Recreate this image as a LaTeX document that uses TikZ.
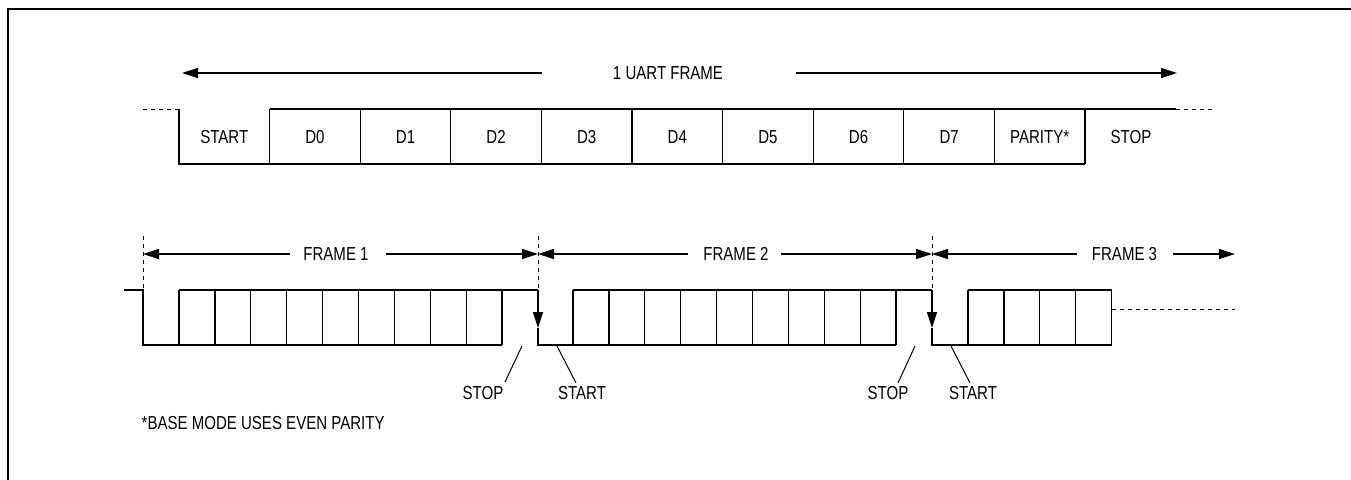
\documentclass[tikz,border=0pt]{standalone}
\usepackage{fontspec}
\setmainfont{Liberation Sans}[FakeStretch=0.8]
\usetikzlibrary{arrows.meta}
\begin{document}
\begin{tikzpicture}[x=1pt,y=-1pt,line width=1.3pt,
  lbl/.style={inner sep=0pt,font=\fontsize{18.8}{20}\selectfont},
  arr/.style={-{Triangle[length=16pt,width=10pt]}},
  dsh/.style={dash pattern=on 4pt off 4pt,line width=1pt}]
\useasboundingbox (0,0) rectangle (1351,479);
% border
\draw[line width=2.4pt] (8,480) -- (8,9) -- (1352,9);
% ---------- top frame ----------
\node[lbl] (uf) at (668,73) {1 UART FRAME};
\coordinate (ufL) at (182,73);
\coordinate (ufR) at (1177,73);
\coordinate (ufLs) at (542,73);
\coordinate (ufRs) at (796,73);
\draw[arr] (ufLs) -- (ufL);
\draw[arr] (ufRs) -- (ufR);
\draw[dsh] (143,109) -- (179,109);
\draw (179,109) -- (179,164) -- (1085,164);
\draw (269.6,109) -- (1176,109);
\draw[dsh] (1176,109) -- (1212,109);
\foreach \i in {1,...,10}{
  \draw ({179+\i*90.6},109) -- ({179+\i*90.6},164);
}
\foreach \t [count=\i from 0] in {START,D0,D1,D2,D3,D4,D5,D6,D7,PARITY*}{
  \node[lbl] (c\i) at ({179+45.3+\i*90.6},137) {\t};
}
\node[lbl] (cstop) at (1131,137) {STOP};
% ---------- bottom frames ----------
% dashed dividers
\foreach \x [count=\k] in {143,538,932}{
  \coordinate (dt\k) at (\x,236);
  \coordinate (db\k) at (\x,290);
  \draw[dsh] (dt\k) -- (db\k);
}
% frame arrows
\node[lbl] (f1) at (336,254) {FRAME 1};
\node[lbl] (f2) at (736,254) {FRAME 2};
\node[lbl] (f3) at (1124.5,254) {FRAME 3};
\draw[arr] (290,254) -- (143,254);
\draw[arr] (386,254) -- (538,254);
\draw[arr] (688,254) -- (538,254);
\draw[arr] (781,254) -- (932,254);
\draw[arr] (1077,254) -- (932,254);
\draw[arr] (1173,254) -- (1235,254);
% signal frame 1
\draw (124,290) -- (143,290) -- (143,345) -- (502,345);
\draw (179,290) -- (538,290);
\foreach \k in {0,...,9}{ \draw ({179+\k*35.9},290) -- ({179+\k*35.9},345); }
\draw[arr] (538,290) -- (538,328);
\draw (538,328) -- (538,345) -- (896,345);
% signal frame 2
\draw (573,290) -- (932,290);
\foreach \k in {0,...,9}{ \draw ({573+\k*35.9},290) -- ({573+\k*35.9},345); }
\draw[arr] (932,290) -- (932,328);
\draw (932,328) -- (932,345) -- (1111.6,345);
% signal frame 3
\draw (968,290) -- (1111.6,290);
\foreach \k in {0,...,4}{ \draw ({968+\k*35.9},290) -- ({968+\k*35.9},345); }
\draw[dsh] (1111.6,309) -- (1235,309);
% stop/start labels
\node[lbl] (s1) at (483,393) {STOP};
\node[lbl] (s2) at (582,393) {START};
\node[lbl] (s3) at (888,393) {STOP};
\node[lbl] (s4) at (973,393) {START};
\draw[line width=1pt] (522,346) -- (505,382);
\draw[line width=1pt] (557,346) -- (576,383);
\draw[line width=1pt] (915,346) -- (898,383);
\draw[line width=1pt] (951,346) -- (970,383);
% footnote
\node[lbl,anchor=west] (fn) at (141,423) {*BASE MODE USES EVEN PARITY};
\end{tikzpicture}
\end{document}
